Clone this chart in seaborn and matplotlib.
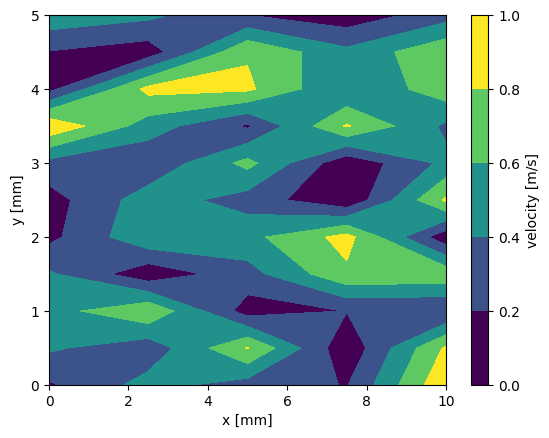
import numpy as np
import matplotlib
matplotlib.use("Agg")
from matplotlib import pyplot as plt
import seaborn as sns

# grid positions [mm]
x_mm = [0.0, 2.5, 5.0, 7.5, 10.0]
y_mm = [0.0, 0.5, 1.0, 1.5, 2.0, 2.5, 3.0, 3.5, 4.0, 4.5, 5.0]

# velocity [m/s], one row per y value (bottom to top), columns follow x_mm
row_y00 = [0.174, 0.475, 0.31, 0.19, 0.97]
row_y05 = [0.43, 0.27, 0.81, 0.05, 0.83]
row_y10 = [0.52, 0.77, 0.105, 0.205, 0.185]
row_y15 = [0.43, 0.06, 0.32, 0.76, 0.74]
row_y20 = [0.146, 0.56, 0.54, 0.87, 0.06]
row_y25 = [0.115, 0.505, 0.31, 0.03, 0.83]
row_y30 = [0.33, 0.24, 0.66, 0.05, 0.45]
row_y35 = [0.97, 0.50, 0.17, 0.82, 0.36]
row_y40 = [0.14, 0.86, 0.835, 0.40, 0.72]
row_y45 = [0.19, 0.086, 0.78, 0.45, 0.76]
row_y50 = [0.54, 0.45, 0.201, 0.07, 0.31]

velocity = np.array([row_y00, row_y05, row_y10, row_y15, row_y20, row_y25,
                     row_y30, row_y35, row_y40, row_y45, row_y50])

levels = np.linspace(0, 1, 6)
# five bands spanning the full viridis range, like matplotlib's contourf
viridis = sns.color_palette("viridis", as_cmap=True)
band_colors = [viridis(v) for v in np.linspace(0, 1, len(levels) - 1)]

fig = plt.figure(figsize=(5.49, 4.38), dpi=100)
ax = fig.add_axes([0.0893, 0.121, 0.7231, 0.8447])
cax = fig.add_axes([0.8574, 0.121, 0.032, 0.8447])

X, Y = np.meshgrid(x_mm, y_mm)
cs = ax.contourf(X, Y, velocity, levels=levels, colors=band_colors)
ax.set_xlabel("x [mm]")
ax.set_ylabel("y [mm]")

cbar = fig.colorbar(cs, cax=cax)
cbar.set_label("velocity [m/s]")

fig.savefig("out.png", dpi=100)
